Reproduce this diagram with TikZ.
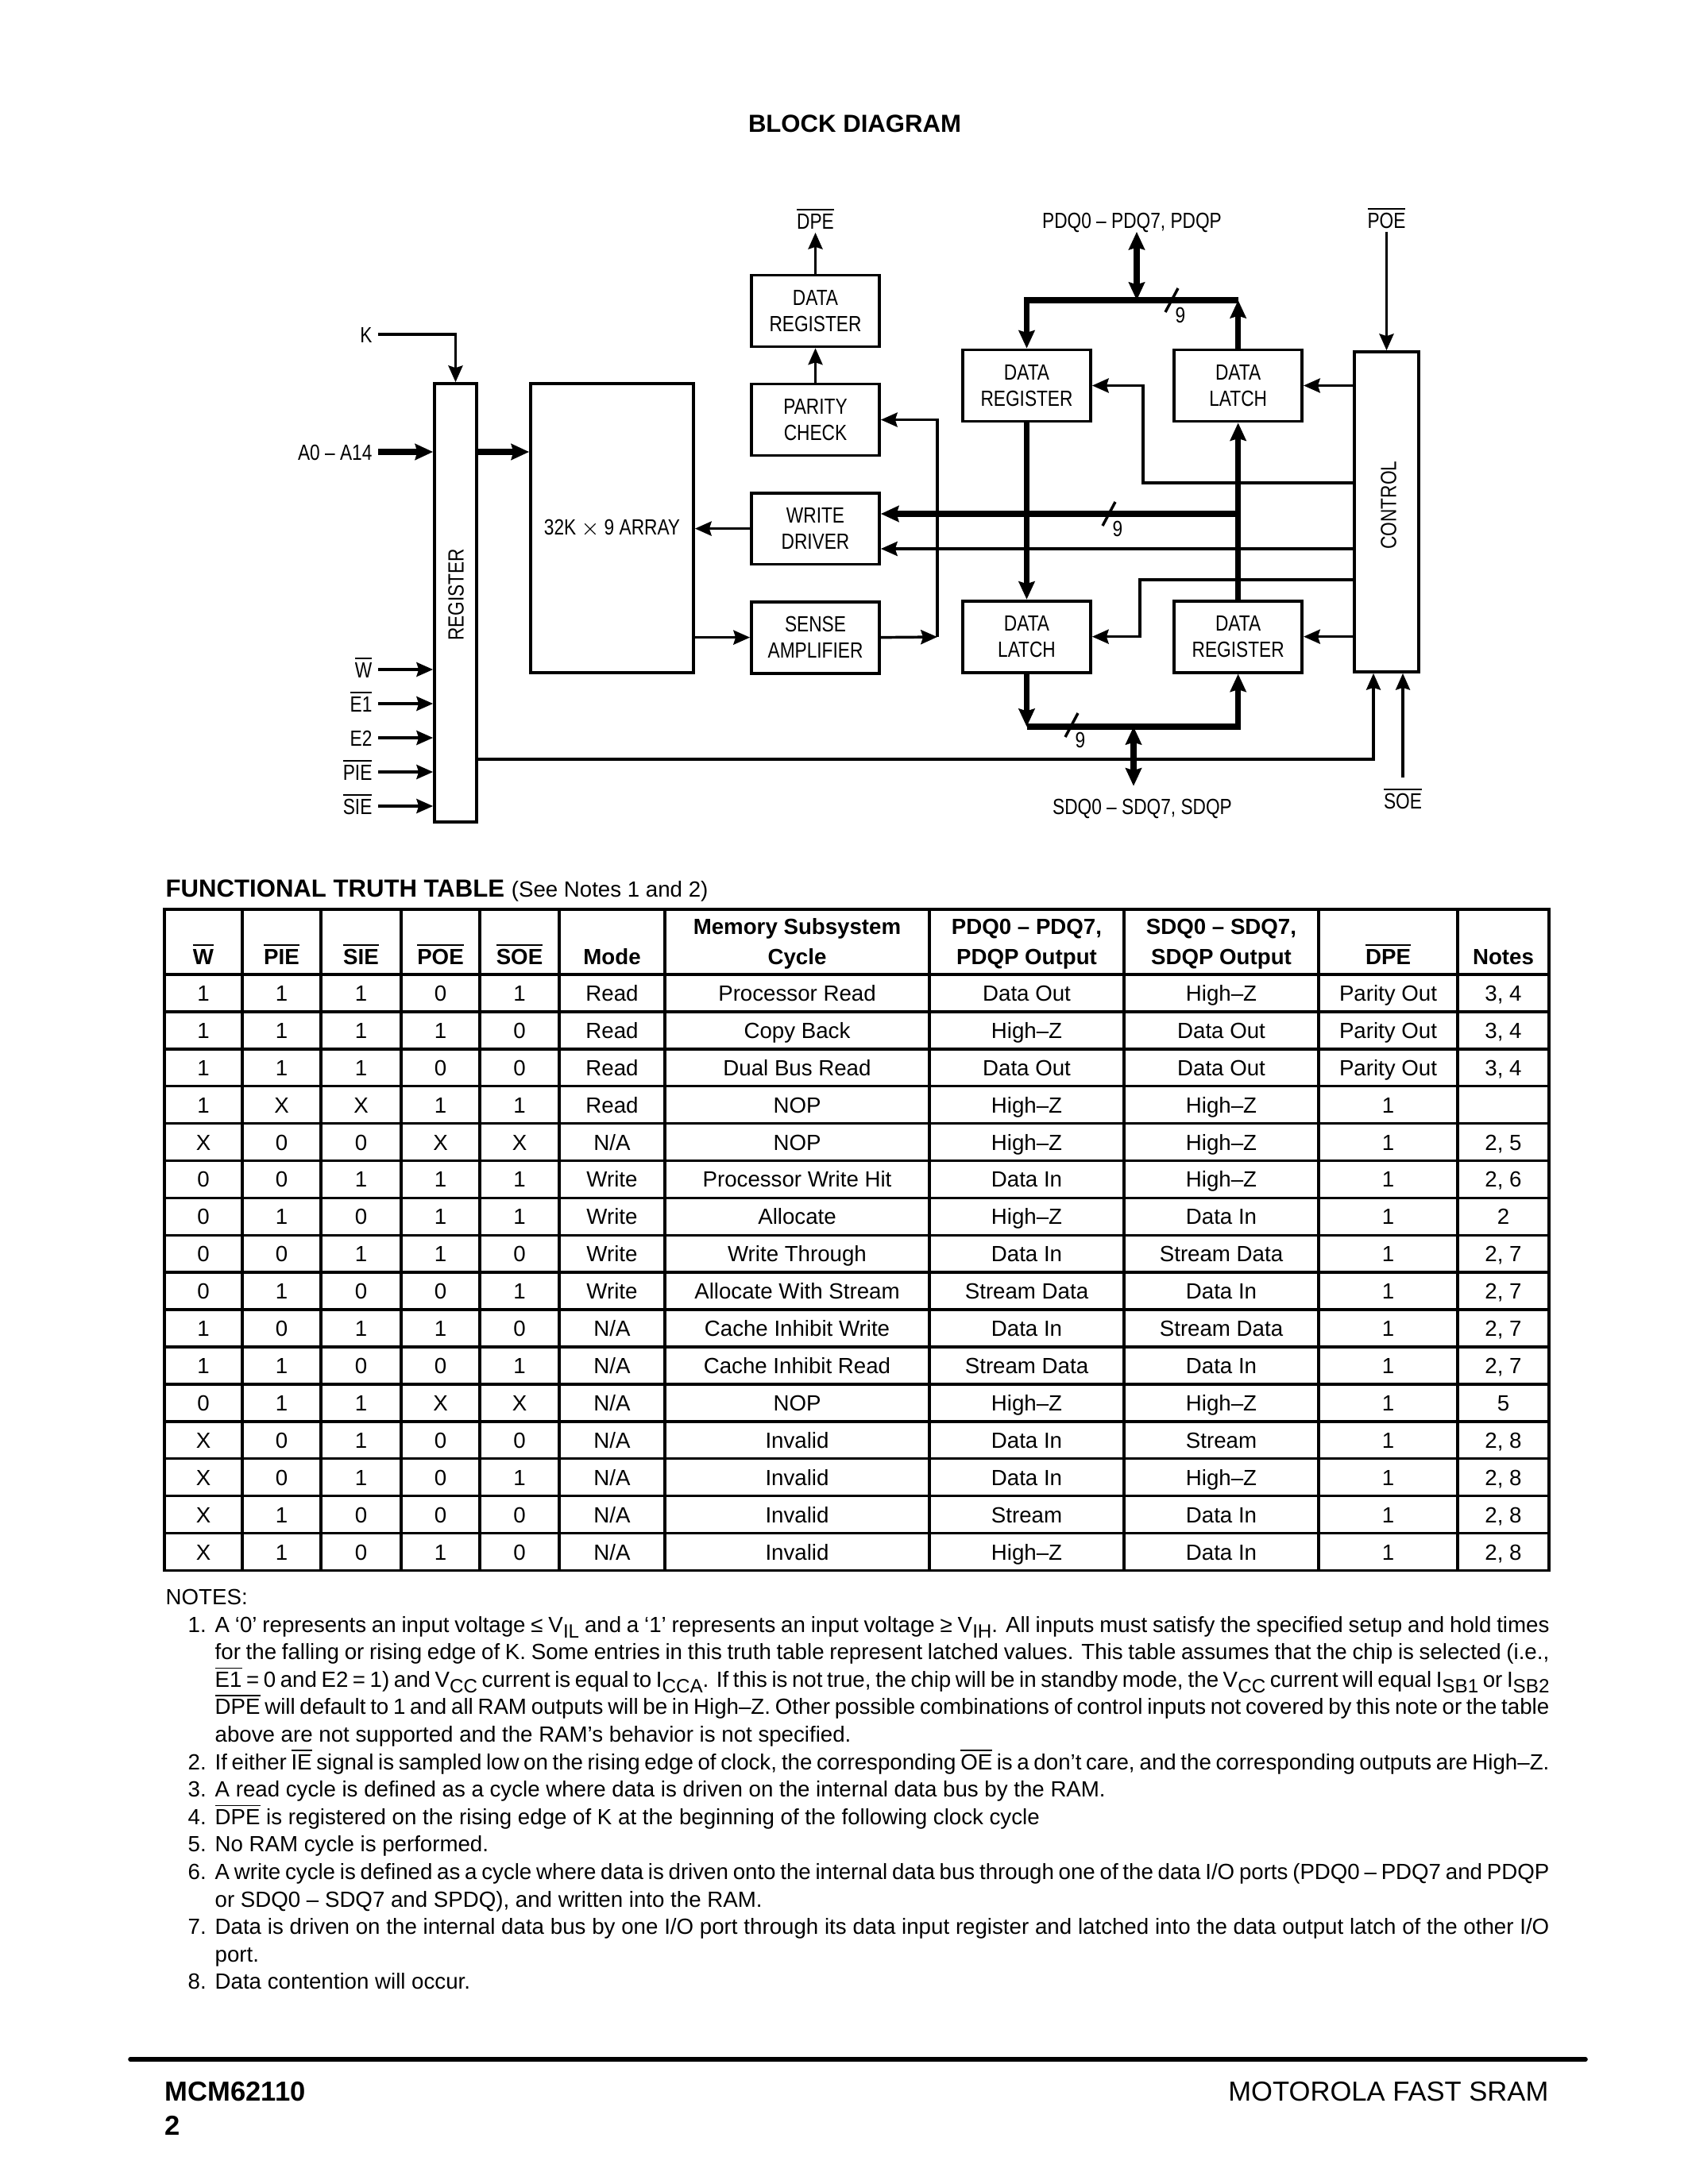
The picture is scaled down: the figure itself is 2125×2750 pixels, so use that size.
\documentclass[tikz,border=0pt]{standalone}
\usepackage{fontspec}
\setmainfont{Liberation Sans}
\newfontfamily\narrowfont{Liberation Sans}[FakeStretch=0.82]
\usetikzlibrary{arrows.meta, positioning}

\newcommand{\ovl}[1]{$\overline{\mbox{#1}}$}
\newcommand{\jline}[1]{\makebox[17.07cm][s]{#1}}
\newcommand{\lowsub}[1]{\raisebox{-0.5ex}{\fontsize{7}{8}\selectfont #1}}
\def\colx{{256,354.5,454.5,554.5,654,770.5,1003.5,1292.5,1537.5,1747.5,1892.5}}

\tikzset{
  base/.style={draw, line width=1.1pt, align=center, inner sep=0pt,
               font=\narrowfont\fontsize{8}{9.6}\selectfont},
  block/.style={base, minimum width=1.636cm, minimum height=0.914cm},
  sig/.style={font=\narrowfont\fontsize{8}{9.6}\selectfont, inner xsep=2pt,
              inner ysep=1.2pt, text height=5.8pt, text depth=0pt},
  lsig/.style={sig, anchor=east},
  arr/.style={-{Stealth[length=6pt, width=5.2pt, inset=0.8pt]}, line width=1pt},
  barr/.style={-{Stealth[length=6.5pt, width=5.8pt, inset=0.8pt]}, line width=2.2pt},
  bbarr/.style={{Stealth[length=6.5pt, width=5.8pt, inset=0.8pt]}-{Stealth[length=6.5pt, width=5.8pt, inset=0.8pt]},
                line width=2.2pt},
  nine/.pic={\draw[line width=1pt] (-8,15) -- (8,-15);
             \node[font=\narrowfont\fontsize{8}{9.6}\selectfont] at (11,19) {9};},
  grid/.style={line width=1pt},
  hdr/.style={font=\bfseries\fontsize{8}{9.6}\selectfont, anchor=base, inner sep=0pt},
  cell/.style={font=\fontsize{8}{9.6}\selectfont, inner sep=0pt, text height=5.8pt, text depth=0pt},
  note/.style={font=\fontsize{8}{9.6}\selectfont, anchor=base west, inner sep=0pt},
}

\begin{document}
\begin{tikzpicture}[x=0.01016cm, y=-0.01016cm, node distance=0.44cm and 1.03cm]
  \path[use as bounding box, fill=white] (0,0) rectangle (2125,2750);

  % Title
  \node[font=\bfseries\fontsize{9}{11}\selectfont, anchor=base] (title) at (1076,167) {BLOCK DIAGRAM};

  % Register and array
  \node[base, minimum width=0.538cm, minimum height=5.608cm] (reg) at (573.5,759) {};
  \node[rotate=90, font=\narrowfont\fontsize{8}{9.6}\selectfont] (reglbl) at (574,749) {REGISTER};
  \node[base, minimum width=2.083cm, minimum height=3.698cm] (array) at (770.5,665) {32K $\times$ 9 ARRAY};

  % Parity column
  \node[block] (dpreg) at (1026.5,391.5) {DATA\\REGISTER};
  \node[block, below=of dpreg] (parity) {PARITY\\CHECK};
  \node[block, below=of parity] (wdrv) {WRITE\\DRIVER};
  \node[block, below=of wdrv] (sense) {SENSE\\AMPLIFIER};

  % Data ports
  \node[block] (preg) at (1292.5,485.5) {DATA\\REGISTER};
  \node[block, right=of preg] (platch) {DATA\\LATCH};
  \node[block, below=2.26cm of preg] (slatch) {DATA\\LATCH};
  \node[block, right=of slatch] (sreg) {DATA\\REGISTER};

  % Control
  \node[base, minimum width=0.823cm, minimum height=4.094cm] (ctrl) at (1745.5,644.5) {};
  \node[rotate=90, font=\narrowfont\fontsize{8}{9.6}\selectfont] (ctrllbl) at (1748,636) {CONTROL};

  % Inputs
  \node[lsig] (k) at (476,421) {K};
  \draw[arr] (k.east) -| (reg.north);
  \node[lsig] (addr) at (476,569) {A0 – A14};
  \draw[barr] (addr.east) -- (reg.west |- addr.east);
  \draw[barr] (reg.east |- addr.east) -- (array.west |- addr.east);
  \foreach \y/\nm/\txt in {843/w/{\ovl{W}}, 886/eone/{\ovl{E1}}, 929/etwo/{E2},
                           972/pie/{\ovl{PIE}}, 1015/sie/{\ovl{SIE}}} {
    \node[lsig] (\nm) at (476,\y) {\txt};
    \draw[arr] (\nm.east) -- (reg.west |- \nm.east);
  }

  % Array to write driver / sense amplifier
  \draw[arr] (wdrv.west) -- (array.east |- wdrv.west);
  \draw[arr] (array.east |- sense.west) -- (sense.west);
  \coordinate (sa) at (1180,802);
  \draw[arr] (sense.east) -- (sa);
  \draw[arr] (sa) |- (parity.east);
  \draw[arr] (parity.north) -- (dpreg.south);
  \node[sig] (dpe) at (1026.5,278) {\ovl{DPE}};
  \draw[arr] (dpreg.north) -- (dpe.south);

  % P port
  \node[sig] (pdq) at (1425,277) {PDQ0 – PDQ7, PDQP};
  \coordinate (pbus) at (1431,378);
  \draw[bbarr] (pdq.south -| pbus) -- (pbus);
  \draw[barr] (platch.north) -- (platch.north |- pbus);
  \draw[barr] (platch.north |- pbus) -| (preg.north);
  \pic at (1475,378) {nine};

  % Internal bus
  \coordinate (ibus) at (platch.south |- 0,647);
  \draw[barr] (sreg.north) -- (platch.south);
  \draw[barr] (preg.south) -- (slatch.north);
  \draw[barr] (ibus) -- (wdrv.east |- ibus);
  \pic at (1396,647) {nine};

  % Control lines
  \draw[arr] (ctrl.west |- platch.east) -- (platch.east);
  \draw[arr] (ctrl.west |- 0,608) -- (1439,608) |- (preg.east);
  \draw[arr] (ctrl.west |- 0,691) -- (wdrv.east |- 0,691);
  \draw[arr] (ctrl.west |- 0,730) -- (1435,730) |- (slatch.east);
  \draw[arr] (ctrl.west |- sreg.east) -- (sreg.east);
  \node[sig] (poe) at (1745.5,277) {\ovl{POE}};
  \draw[arr] (poe.south) -- (ctrl.north);
  \node[sig] (soe) at (1766,1008) {\ovl{SOE}};
  \draw[arr, shorten <=4pt] (soe.north) -- (soe.north |- ctrl.south);
  \coordinate (cen) at (1729,956);
  \draw[arr] (reg.east |- cen) -| (ctrl.south -| cen);

  % S port
  \coordinate (sbus) at (1427,915);
  \draw[barr] (slatch.south) -- (slatch.south |- sbus);
  \draw[barr] (slatch.south |- sbus) -| (sreg.south);
  \node[sig] (sdq) at (1438,1015) {SDQ0 – SDQ7, SDQP};
  \draw[bbarr, shorten >=3pt] (sbus) -- (sdq.north -| sbus);
  \pic at (1349,913) {nine};

  % Truth table
  \node[anchor=base west, inner sep=0pt, font=\bfseries\fontsize{9}{11}\selectfont] (ttitle) at (208,1129)
    {FUNCTIONAL TRUTH TABLE {\mdseries\fontsize{8}{10}\selectfont(See Notes 1 and 2)}};
  \draw[grid] (207,1145) rectangle (1950,1977.4);
  \draw[grid] (207,1227) -- (1950,1227);
  \foreach \i in {1,...,15} \draw[grid] (207,{1227+46.9*\i}) -- (1950,{1227+46.9*\i});
  \foreach \x in {305,404,505,604,704,837,1170,1415,1660,1835} \draw[grid] (\x,1145) -- (\x,1977.4);
  \foreach \x/\t in {256/{\ovl{W}}, 354.5/{\ovl{PIE}}, 454.5/{\ovl{SIE}}, 554.5/{\ovl{POE}},
                     654/{\ovl{SOE}}, 770.5/Mode, 1003.5/Cycle, 1292.5/PDQP Output,
                     1537.5/SDQP Output, 1747.5/{\ovl{DPE}}, 1892.5/Notes}
    \node[hdr] at (\x,1214) {\t};
  \node[hdr] at (1003.5,1176) {Memory Subsystem};
  \node[hdr] at (1292.5,1176) {PDQ0 – PDQ7,};
  \node[hdr] at (1537.5,1176) {SDQ0 – SDQ7,};
  \foreach \row [count=\i] in {
      {1,1,1,0,1,Read,Processor Read,Data Out,High–Z,Parity Out,{3, 4}},
      {1,1,1,1,0,Read,Copy Back,High–Z,Data Out,Parity Out,{3, 4}},
      {1,1,1,0,0,Read,Dual Bus Read,Data Out,Data Out,Parity Out,{3, 4}},
      {1,X,X,1,1,Read,NOP,High–Z,High–Z,1},
      {X,0,0,X,X,N/A,NOP,High–Z,High–Z,1,{2, 5}},
      {0,0,1,1,1,Write,Processor Write Hit,Data In,High–Z,1,{2, 6}},
      {0,1,0,1,1,Write,Allocate,High–Z,Data In,1,2},
      {0,0,1,1,0,Write,Write Through,Data In,Stream Data,1,{2, 7}},
      {0,1,0,0,1,Write,Allocate With Stream,Stream Data,Data In,1,{2, 7}},
      {1,0,1,1,0,N/A,Cache Inhibit Write,Data In,Stream Data,1,{2, 7}},
      {1,1,0,0,1,N/A,Cache Inhibit Read,Stream Data,Data In,1,{2, 7}},
      {0,1,1,X,X,N/A,NOP,High–Z,High–Z,1,5},
      {X,0,1,0,0,N/A,Invalid,Data In,Stream,1,{2, 8}},
      {X,0,1,0,1,N/A,Invalid,Data In,High–Z,1,{2, 8}},
      {X,1,0,0,0,N/A,Invalid,Stream,Data In,1,{2, 8}},
      {X,1,0,1,0,N/A,Invalid,High–Z,Data In,1,{2, 8}}} {
    \foreach \c [count=\j] in \row {
      \pgfmathsetmacro\cx{\colx[\j-1]}
      \node[cell] at (\cx,{1227+46.9*(\i-0.5)}) {\c};
    }
  }

  % Notes
  \node[note] (notes) at (208,2020) {NOTES:};
  \foreach \n/\y in {1/2055, 2/2228, 3/2262.6, 4/2297.2, 5/2331.8, 6/2366.4, 7/2435.6, 8/2504.8}
    \node[note] (num\n) at (236,\y) {\n.};
  \node[note] at (270,2055) {\jline{A ‘0’ represents an input voltage ≤ V\lowsub{IL} and a ‘1’ represents an input voltage ≥ V\lowsub{IH}. All inputs must satisfy the specified setup and hold times}};
  \node[note] at (270,2089.6) {\jline{for the falling or rising edge of K. Some entries in this truth table represent latched values. This table assumes that the chip is selected (i.e.,}};
  \node[note] at (270,2124.2) {\jline{\ovl{E1} = 0 and E2 = 1) and V\lowsub{CC} current is equal to I\lowsub{CCA}. If this is not true, the chip will be in standby mode, the V\lowsub{CC} current will equal I\lowsub{SB1} or I\lowsub{SB2}}};
  \node[note] at (270,2158.8) {\jline{\ovl{DPE} will default to 1 and all RAM outputs will be in High–Z. Other possible combinations of control inputs not covered by this note or the table}};
  \node[note] at (270,2193.4) {above are not supported and the RAM’s behavior is not specified.};
  \node[note] at (270,2228) {\jline{If either \ovl{IE} signal is sampled low on the rising edge of clock, the corresponding \ovl{OE} is a don’t care, and the corresponding outputs are High–Z.}};
  \node[note] at (270,2262.6) {A read cycle is defined as a cycle where data is driven on the internal data bus by the RAM.};
  \node[note] at (270,2297.2) {\ovl{DPE} is registered on the rising edge of K at the beginning of the following clock cycle};
  \node[note] at (270,2331.8) {No RAM cycle is performed.};
  \node[note] at (270,2366.4) {\jline{A write cycle is defined as a cycle where data is driven onto the internal data bus through one of the data I/O ports (PDQ0 – PDQ7 and PDQP}};
  \node[note] at (270,2401) {or SDQ0 – SDQ7 and SPDQ), and written into the RAM.};
  \node[note] at (270,2435.6) {\jline{Data is driven on the internal data bus by one I/O port through its data input register and latched into the data output latch of the other I/O}};
  \node[note] at (270,2470.2) {port.};
  \node[note] at (270,2504.8) {Data contention will occur.};

  % Footer
  \draw[line width=1.6pt, line cap=round] (164,2593) -- (1996,2593);
  \node[anchor=base west, inner sep=0pt, font=\bfseries\fontsize{10}{12}\selectfont] (part) at (207,2645) {MCM62110};
  \node[anchor=base west, inner sep=0pt, font=\bfseries\fontsize{10}{12}\selectfont] (page) at (207,2688) {2};
  \node[anchor=base east, inner sep=0pt, font=\fontsize{10}{12}\selectfont] (brand) at (1950,2645) {MOTOROLA FAST SRAM};
\end{tikzpicture}
\end{document}
